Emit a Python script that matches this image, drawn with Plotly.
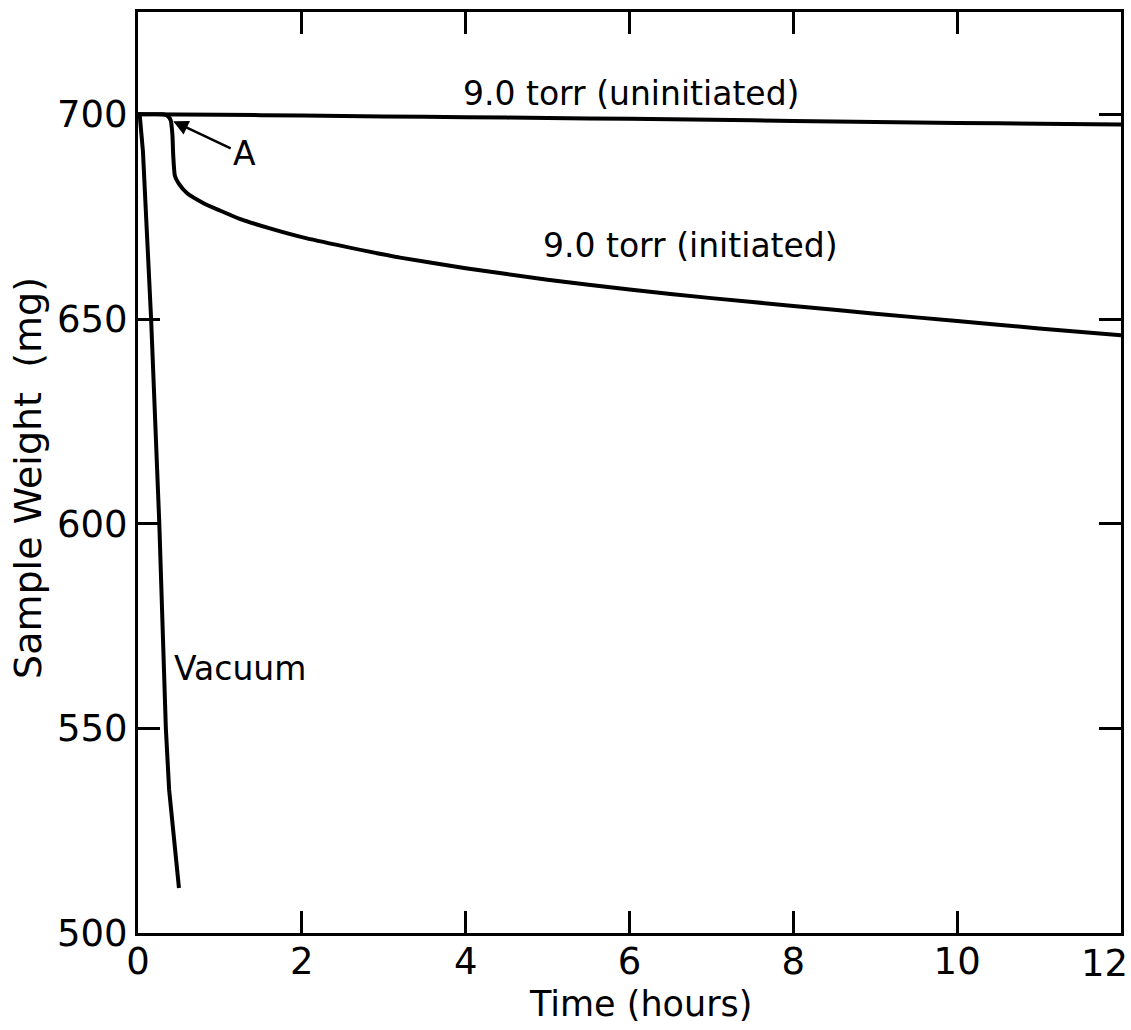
import plotly.graph_objects as go

# Sample weight vs time at 9.0 torr and under vacuum
time_uninit = [0, 1, 2, 3, 4, 5, 6, 7, 8, 9, 10, 11, 12]
weight_uninit = [700, 699.9, 699.7, 699.5, 699.3, 699.1, 698.9, 698.7, 698.4, 698.1, 697.9, 697.7, 697.5]

time_init = [0, 0.30, 0.36, 0.40, 0.42, 0.43, 0.45, 0.50, 0.60, 0.80, 1.0, 1.25, 1.6,
             2.0, 2.5, 3.2, 4.0, 5.0, 6.0, 7.0, 8.0, 9.0, 10.0, 11.0, 12.0]
weight_init = [700, 700, 699.6, 698.5, 695, 690, 685, 683, 680.7, 678.3, 676.5, 674.4, 672.2,
               670.0, 667.8, 665.0, 662.4, 659.6, 657.2, 655.1, 653.2, 651.3, 649.5, 647.7, 646.0]

time_vac = [0, 0.02, 0.06, 0.16, 0.26, 0.34, 0.38, 0.44, 0.50]
weight_vac = [700, 700, 691, 650, 600, 550, 535, 524, 511]

x_ticks = [0, 2, 4, 6, 8, 10, 12]
x_labels = ["0", "2", "4", "6", "8", "10", "12"]
y_ticks = [500, 550, 600, 650, 700]

FONT = "DejaVu Sans"
INK = "black"
TICK_SIZE = 37

fig = go.Figure()
fig.add_trace(go.Scatter(x=time_uninit, y=weight_uninit, mode="lines",
                         line=dict(color=INK, width=4, shape="spline", smoothing=0.5),
                         name="9.0 torr (uninitiated)"))
fig.add_trace(go.Scatter(x=time_init, y=weight_init, mode="lines",
                         line=dict(color=INK, width=4, shape="spline", smoothing=0.5),
                         name="9.0 torr (initiated)"))
fig.add_trace(go.Scatter(x=time_vac, y=weight_vac, mode="lines",
                         line=dict(color=INK, width=4),
                         name="Vacuum"))

label_font = dict(family=FONT, size=33, color=INK)
fig.add_annotation(x=6.03, y=705, text="9.0 torr (uninitiated)", showarrow=False, font=label_font)
fig.add_annotation(x=6.75, y=668, text="9.0 torr (initiated)", showarrow=False, font=label_font)
fig.add_annotation(x=1.25, y=564.6, text="Vacuum", showarrow=False, font=label_font)
fig.add_annotation(x=1.30, y=690.5, text="A", showarrow=False, font=label_font)
# arrow pointing at the onset of weight loss (point A)
fig.add_annotation(x=0.43, y=698.3, ax=1.15, ay=691.5, axref="x", ayref="y",
                   text="", showarrow=True, arrowhead=2, arrowsize=1.2,
                   arrowwidth=2.5, arrowcolor=INK)

# the last x tick label sits flush against the right edge, so it is right-aligned there
fig.add_annotation(xref="x", yref="paper", x=x_ticks[-1], y=-0.0335,
                   xanchor="right", yanchor="middle", xshift=9,
                   text=x_labels[-1], showarrow=False,
                   font=dict(family=FONT, size=TICK_SIZE, color=INK))

# axis titles placed as paper-anchored text
fig.add_annotation(xref="paper", yref="paper", x=0.512, y=-0.077,
                   xanchor="center", yanchor="middle",
                   text="Time (hours)", showarrow=False,
                   font=dict(family=FONT, size=35, color=INK))
fig.add_annotation(xref="paper", yref="paper", x=-0.112, y=0.494,
                   xanchor="center", yanchor="middle", textangle=-90,
                   text="Sample Weight  (mg)", showarrow=False,
                   font=dict(family=FONT, size=38, color=INK))

axis_common = dict(
    showline=True, linewidth=3, linecolor=INK, mirror="allticks",
    ticks="inside", ticklen=22, tickwidth=3, tickcolor=INK,
    showgrid=False, zeroline=False,
    tickfont=dict(family=FONT, size=TICK_SIZE, color=INK),
    automargin=False,
)

fig.update_xaxes(range=[0, 12], tickvals=x_ticks,
                 ticktext=x_labels[:-1] + [""], ticklabelstandoff=-6,
                 **axis_common)
fig.update_yaxes(range=[500, 725], tickvals=y_ticks, ticktext=[str(v) for v in y_ticks],
                 **axis_common)

fig.update_layout(
    width=1131, height=1030,
    margin=dict(l=138, r=10, t=12, b=97, autoexpand=False),
    paper_bgcolor="white", plot_bgcolor="white",
    showlegend=False,
    font=dict(family=FONT, color=INK),
)

fig.write_html("out.html")
